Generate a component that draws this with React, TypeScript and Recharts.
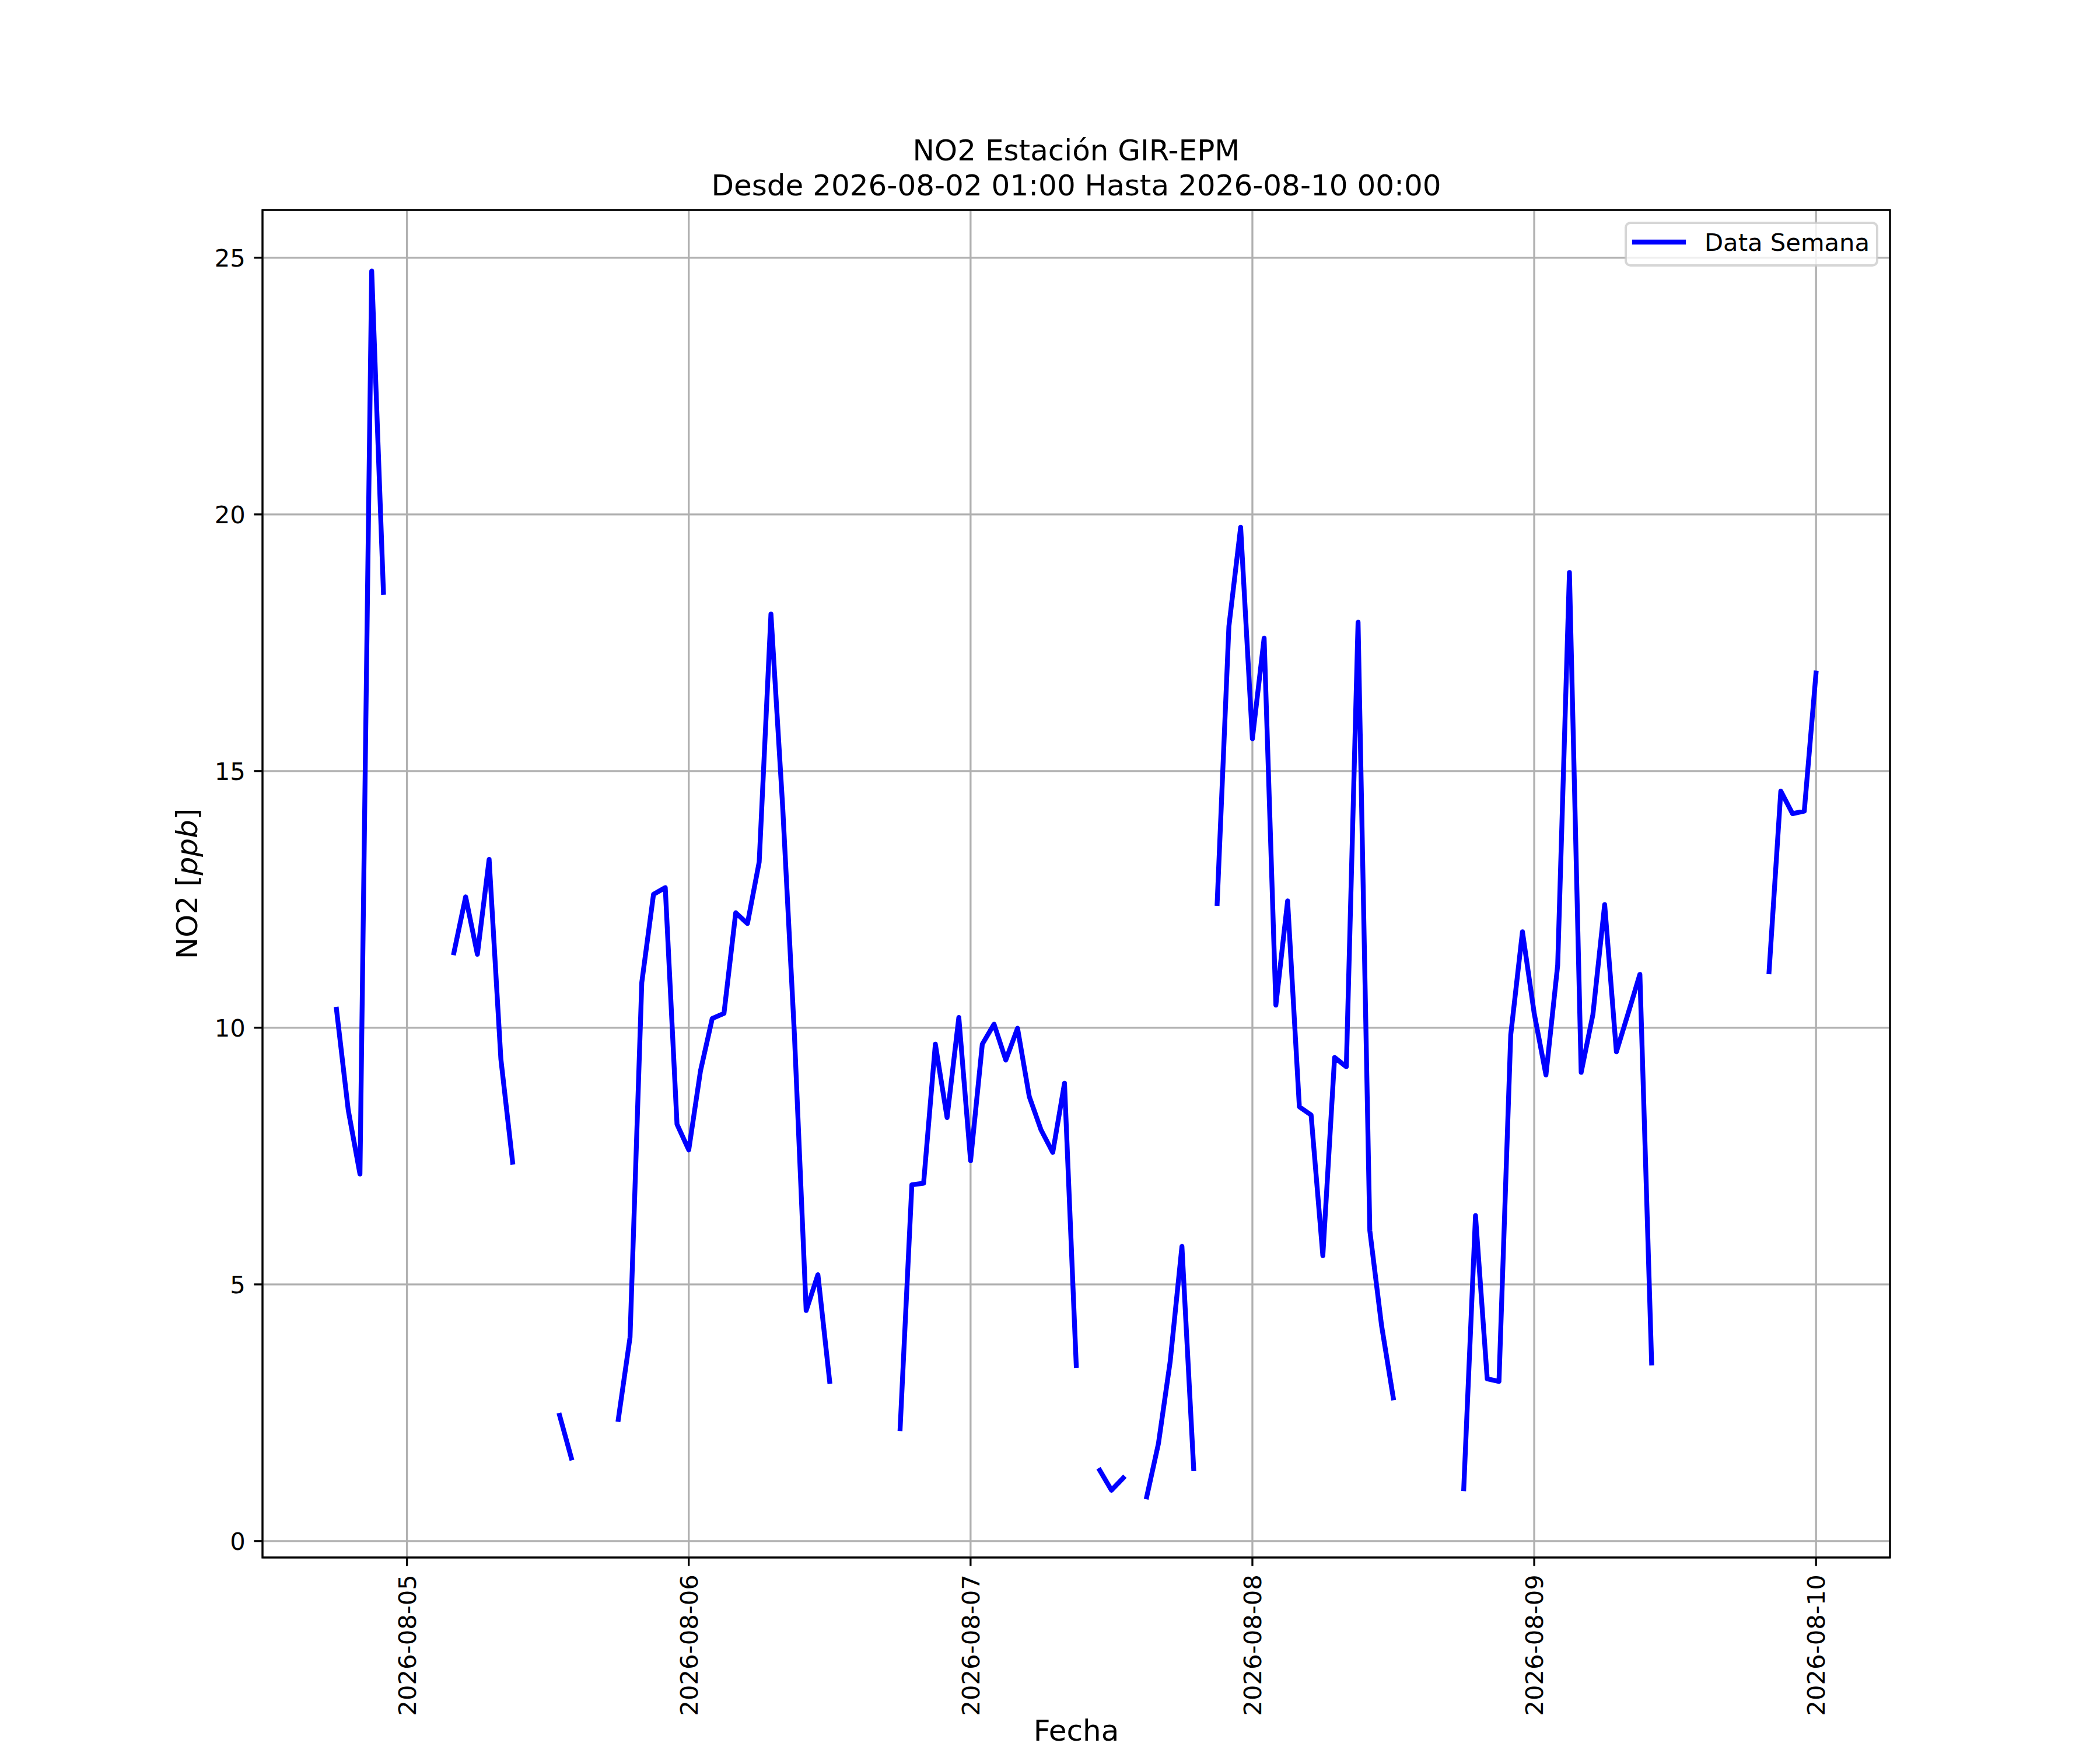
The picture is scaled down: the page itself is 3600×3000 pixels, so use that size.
import React from "react";
import { LineChart, Line, XAxis, YAxis, CartesianGrid, Legend } from "recharts";

// hours counted from 2026-08-05 00:00
const TICK_HOURS = [0, 24, 48, 72, 96, 120];
const TICK_LABELS = [
  "2026-08-05",
  "2026-08-06",
  "2026-08-07",
  "2026-08-08",
  "2026-08-09",
  "2026-08-10",
];
const Y_TICKS = [0, 5, 10, 15, 20, 25];

// first hour of each run of hourly readings (gaps are missing data)
const SEGMENT_STARTS = [-6, 4, 13, 18, 42, 59, 63, 69, 90, 116];

const seg04Evening = [10.36, 8.4, 7.15, 24.74, 18.48];
const seg05Morning = [11.46, 12.55, 11.43, 13.28, 9.39, 7.38];
const seg05Afternoon = [2.45, 1.62];
const seg05Night = [
  2.37, 3.97, 10.88, 12.6, 12.73, 8.12, 7.62, 9.16, 10.18, 10.28, 12.24, 12.03,
  13.23, 18.06, 14.3, 9.86, 4.49, 5.19, 3.11,
];
const seg06Night = [
  2.19, 6.94, 6.97, 9.68, 8.25, 10.2, 7.41, 9.68, 10.07, 9.37, 9.99, 8.66, 8.01,
  7.57, 8.92, 3.42,
];
const seg07Noon = [1.38, 0.99, 1.23];
const seg07Afternoon = [0.86, 1.9, 3.5, 5.74, 1.41];
const seg07Night = [
  12.42, 17.82, 19.75, 15.63, 17.59, 10.44, 12.47, 8.46, 8.3, 5.56, 9.42, 9.24,
  17.9, 6.05, 4.2, 2.79,
];
const seg08Night = [
  1.02, 6.34, 3.16, 3.11, 9.86, 11.87, 10.28, 9.08, 11.22, 18.87, 9.13, 10.26,
  12.4, 9.53, 10.28, 11.04, 3.47,
];
const seg09Night = [11.09, 14.61, 14.17, 14.22, 16.91];

const SEGMENTS = [
  seg04Evening,
  seg05Morning,
  seg05Afternoon,
  seg05Night,
  seg06Night,
  seg07Noon,
  seg07Afternoon,
  seg07Night,
  seg08Night,
  seg09Night,
];

type Point = { t: number; v: number | null };

const data: Point[] = [];
SEGMENTS.forEach((seg, i) => {
  const start = SEGMENT_STARTS[i];
  seg.forEach((v, k) => data.push({ t: start + k, v }));
  // null point breaks the line before the next run
  data.push({ t: start + seg.length, v: null });
});

const W = 3600;
const H = 3000;
const PLOT = { left: 450, right: 3240, top: 360, bottom: 2670 };
const FONT = "DejaVu Sans";
const TICK_FS = 41.7;
const LABEL_FS = 50;
const LW = 3.33;
const SERIES_LW = 8.3;

const DateTick = (props: any) => {
  const { x, y, payload } = props;
  const idx = TICK_HOURS.indexOf(payload.value);
  return (
    <text
      x={x}
      y={y}
      transform={`rotate(-90, ${x}, ${y})`}
      textAnchor="end"
      dy="0.36em"
      fontFamily={FONT}
      fontSize={TICK_FS}
      fill="#000"
    >
      {TICK_LABELS[idx]}
    </text>
  );
};

const LegendBox = () => (
  <svg width={435} height={77} style={{ display: "block" }}>
    <rect
      x={2}
      y={2}
      width={431}
      height={73}
      rx={8}
      fill="#ffffff"
      fillOpacity={0.8}
      stroke="#cccccc"
      strokeOpacity={0.8}
      strokeWidth={4}
    />
    <line
      x1={17}
      y1={35}
      x2={101}
      y2={35}
      stroke="#0000ff"
      strokeWidth={SERIES_LW}
      strokeLinecap="square"
    />
    <text x={137} y={50} fontFamily={FONT} fontSize={TICK_FS} fill="#000">
      Data Semana
    </text>
  </svg>
);

export default function App() {
  const yAxisWidth = 100;
  const xAxisHeight = 300;
  const cx = (PLOT.left + PLOT.right) / 2;
  const cy = (PLOT.top + PLOT.bottom) / 2;
  return (
    <div
      style={{
        position: "absolute",
        left: 0,
        top: 0,
        width: W,
        height: H,
        background: "#ffffff",
        fontFamily: FONT,
      }}
    >
      <LineChart
        width={W}
        height={H}
        data={data}
        margin={{
          top: PLOT.top,
          right: W - PLOT.right,
          bottom: H - PLOT.bottom - xAxisHeight,
          left: PLOT.left - yAxisWidth,
        }}
      >
        <CartesianGrid stroke="#b0b0b0" strokeWidth={LW} />
        <XAxis
          dataKey="t"
          type="number"
          domain={[-12.3, 126.3]}
          ticks={TICK_HOURS}
          height={xAxisHeight}
          axisLine={false}
          tickLine={{ stroke: "#000", strokeWidth: LW }}
          tickSize={14.6}
          tickMargin={14.6}
          tick={<DateTick />}
          interval={0}
          allowDataOverflow
        />
        <YAxis
          type="number"
          domain={[-0.32, 25.93]}
          ticks={Y_TICKS}
          width={yAxisWidth}
          axisLine={false}
          tickLine={{ stroke: "#000", strokeWidth: LW }}
          tickSize={14.6}
          tickMargin={14.6}
          tick={{ fontSize: TICK_FS, fill: "#000", fontFamily: FONT }}
          interval={0}
          allowDataOverflow
        />
        <Legend
          layout="vertical"
          align="center"
          verticalAlign="middle"
          wrapperStyle={{ position: "absolute", left: 2785, top: 380, width: 435, height: 77 }}
          content={() => <LegendBox />}
        />
        <Line
          type="linear"
          dataKey="v"
          name="Data Semana"
          stroke="#0000ff"
          strokeWidth={SERIES_LW}
          strokeLinejoin="round"
          strokeLinecap="square"
          dot={false}
          activeDot={false}
          connectNulls={false}
          isAnimationActive={false}
        />
      </LineChart>
      <svg
        width={W}
        height={H}
        style={{ position: "absolute", left: 0, top: 0, pointerEvents: "none" }}
      >
        <rect
          x={PLOT.left}
          y={PLOT.top}
          width={PLOT.right - PLOT.left}
          height={PLOT.bottom - PLOT.top}
          fill="none"
          stroke="#000"
          strokeWidth={LW}
        />
        <text x={cx} y={275} textAnchor="middle" fontFamily={FONT} fontSize={LABEL_FS}>
          NO2 Estación GIR-EPM
        </text>
        <text x={cx} y={335} textAnchor="middle" fontFamily={FONT} fontSize={LABEL_FS}>
          Desde 2026-08-02 01:00 Hasta 2026-08-10 00:00
        </text>
        <text x={cx} y={2984} textAnchor="middle" fontFamily={FONT} fontSize={LABEL_FS}>
          Fecha
        </text>
        <text
          x={338}
          y={cy}
          transform={`rotate(-90, 338, ${cy})`}
          textAnchor="middle"
          fontFamily={FONT}
          fontSize={LABEL_FS}
        >
          NO2 [<tspan fontStyle="italic">ppb</tspan>]
        </text>
      </svg>
    </div>
  );
}
